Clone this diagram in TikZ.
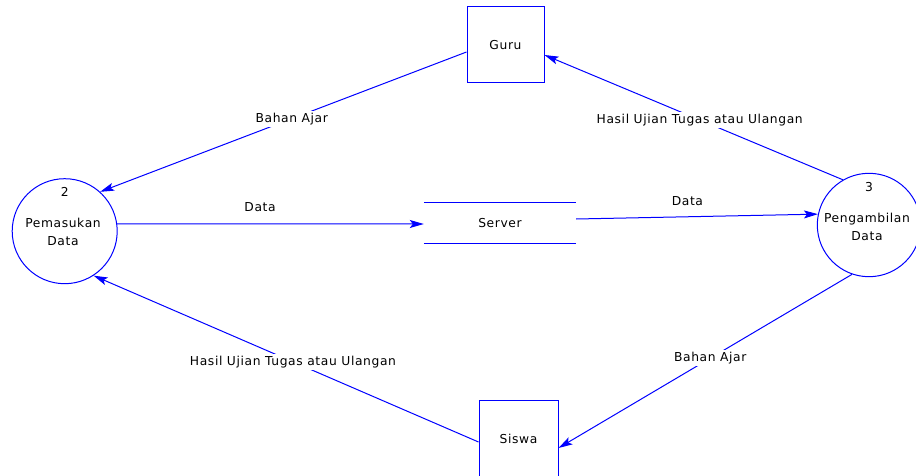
\documentclass[tikz,border=0pt]{standalone}
\usepackage{fontspec}
\setmainfont{DejaVu Sans}[LetterSpace=5]
\usetikzlibrary{arrows.meta}
\begin{document}
\begin{tikzpicture}[x=1pt,y=-1pt,
  font=\fontsize{12.3}{18}\selectfont,
  flow/.style={draw=blue, line width=1pt, -{Stealth[length=14pt,width=8pt,inset=3pt]}},
  proc/.style={circle, draw=blue, line width=1pt, minimum size=105pt, inner sep=0pt},
  ent/.style={rectangle, draw=blue, line width=1pt, inner sep=0pt},
  lbl/.style={fill=white, inner sep=2pt},
  storeline/.style={draw=blue, line width=1pt}]
\useasboundingbox (0,0) rectangle (916,476);
\clip (0,0) rectangle (916,476);
% processes
\node[proc] (c2) at (64.7,231.2) {};
\node (n2) at (64.7,192) {2};
\node[align=center] (t2) at (63,232) {Pemasukan\\Data};
\node[proc, minimum size=103.4pt] (c3) at (869,225) {};
\node (n3) at (869,187) {3};
\node[align=center] (t3) at (867,226.5) {Pengambilan\\Data};
% entities
\node[ent, minimum width=77pt, minimum height=76pt] (guru) at (505.5,45) {Guru};
\node[ent, minimum width=79pt, minimum height=78pt] (siswa) at (518.5,439) {Siswa};
% data store
\node[minimum width=152pt, minimum height=40pt, inner sep=0pt] (server) at (500,223) {Server};
\draw[storeline] (server.north west) -- (server.north east);
\draw[storeline] (server.south west) -- (server.south east);
% flows
\draw[flow] ([yshift=-7pt]guru.west) -- (c2.48)
  node[lbl, pos=0.477] (l1) {Bahan Ajar};
\draw[flow] (c3.120) -- ([yshift=-10pt]guru.east)
  node[lbl, pos=0.48] (l2) {Hasil Ujian Tugas atau Ulangan};
\draw[flow] (c2.8) -- ([yshift=-1pt]server.west)
  node[pos=0.466, above=8pt] (l3) {Data};
\draw[flow] ([yshift=4pt]server.east) -- (c3.168)
  node[pos=0.46, above=7pt] (l4) {Data};
\draw[flow] (c3.251) -- ([yshift=-9pt]siswa.east)
  node[lbl, pos=0.483] (l5) {Bahan Ajar};
\draw[flow] ([yshift=-3pt]siswa.west) -- (c2.303)
  node[lbl, pos=0.482] (l6) {Hasil Ujian Tugas atau Ulangan};
\end{tikzpicture}
\end{document}
